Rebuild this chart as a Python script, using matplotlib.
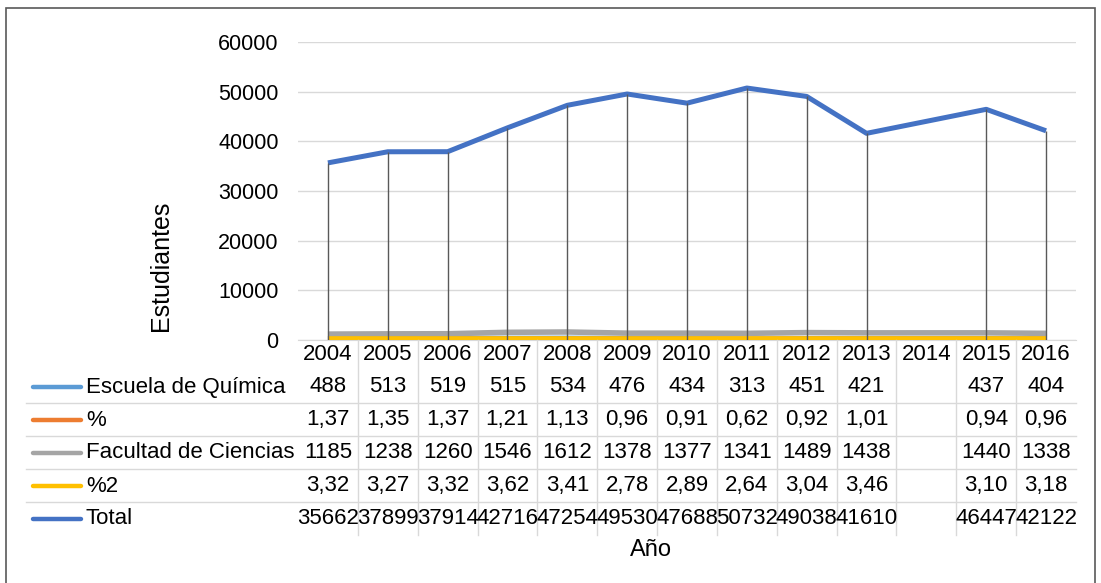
import numpy as np
import matplotlib
matplotlib.use('Agg')
import matplotlib.pyplot as plt
import matplotlib.transforms as mtransforms
from matplotlib.patches import Rectangle

plt.rcParams['font.family'] = ['Liberation Sans', 'DejaVu Sans']

# ---- Data ----
years = ['2004', '2005', '2006', '2007', '2008', '2009', '2010',
         '2011', '2012', '2013', '2014', '2015', '2016']
escuela = [488, 513, 519, 515, 534, 476, 434, 313, 451, 421, np.nan, 437, 404]
pct = [1.37, 1.35, 1.37, 1.21, 1.13, 0.96, 0.91, 0.62, 0.92, 1.01, np.nan, 0.94, 0.96]
facultad = [1185, 1238, 1260, 1546, 1612, 1378, 1377, 1341, 1489, 1438, np.nan, 1440, 1338]
pct2 = [3.32, 3.27, 3.32, 3.62, 3.41, 2.78, 2.89, 2.64, 3.04, 3.46, np.nan, 3.10, 3.18]
total = [35662, 37899, 37914, 42716, 47254, 49530, 47688, 50732, 49038, 41610,
         np.nan, 46447, 42122]

series_names = ['Escuela de Química', '%', 'Facultad de Ciencias', '%2', 'Total']
series_values = [escuela, pct, facultad, pct2, total]
series_colors = ['#5B9BD5', '#ED7D31', '#A5A5A5', '#FFC000', '#4472C4']
series_decimals = [0, 2, 0, 2, 0]
series_widths = [2.5, 5.0, 4.0, 5.5, 3.6]

W, H = 1101, 583


def fx(px):
    return px / W


def fy(py):
    return 1 - py / H


fig = plt.figure(figsize=(W / 100, H / 100), dpi=100)

# outer frame
fig.patches.append(Rectangle((fx(6), fy(590)), fx(1095) - fx(6), fy(8) - fy(590),
                             transform=fig.transFigure, fill=False,
                             edgecolor='#595959', linewidth=1.2))

ax = fig.add_axes([fx(298), fy(340), fx(1076) - fx(298), fy(42) - fy(340)])
x = np.arange(len(years))

# drop lines from the highest value down to the axis
stack = np.array(series_values, dtype=float)
valid = ~np.isnan(stack).any(axis=0)
ax.vlines(x[valid], 0, np.nanmax(stack, axis=0)[valid], color='#595959',
          linewidth=1.0, zorder=4)

for vals, color, lw in zip(series_values, series_colors, series_widths):
    v = np.array(vals, dtype=float)
    m = ~np.isnan(v)
    ax.plot(x[m], v[m], color=color, linewidth=lw, solid_capstyle='butt', zorder=3)

ax.set_xlim(-0.5, len(years) - 0.5)
ax.set_ylim(0, 60000)
ax.set_yticks(np.arange(0, 60001, 10000))
ax.yaxis.grid(True, color='#D9D9D9', linewidth=1)
ax.set_axisbelow(True)
ax.set_xticks([])
ax.tick_params(axis='y', length=0, labelsize=15.5, pad=14, colors='#000000')
for side in ['top', 'right', 'left']:
    ax.spines[side].set_visible(False)
ax.spines['bottom'].set_color('#D9D9D9')

fig.text(fx(161), fy(266), 'Estudiantes', rotation=90, fontsize=18,
         ha='center', va='center')

# ---- data table below the axis ----
tr = mtransforms.blended_transform_factory(ax.transData, fig.transFigure)
row_y = [387, 420, 453, 486, 519]
sep_y = [403, 436, 469, 502]
table_fs = 16

for i, yr in enumerate(years):
    fig.text(i, fy(355), yr, transform=tr, fontsize=table_fs, ha='center', va='center')

for k in range(1, len(years)):
    fig.add_artist(plt.Line2D([k - 0.5, k - 0.5], [fy(340), fy(535)], transform=tr,
                              color='#D9D9D9', linewidth=1))
for sy in sep_y:
    fig.add_artist(plt.Line2D([fx(26), fx(1076)], [fy(sy), fy(sy)],
                              transform=fig.transFigure, color='#D9D9D9', linewidth=1))

for ry, name, vals, color, dec in zip(row_y, series_names, series_values,
                                      series_colors, series_decimals):
    fig.add_artist(plt.Line2D([fx(33), fx(81)], [fy(ry), fy(ry)],
                              transform=fig.transFigure, color=color,
                              linewidth=3.2, solid_capstyle='round'))
    fig.text(fx(86), fy(ry), name, fontsize=table_fs, ha='left', va='center')
    for i, v in enumerate(vals):
        if np.isnan(v):
            continue
        label = f'{v:.{dec}f}'.replace('.', ',')
        fig.text(i, fy(ry), label, transform=tr, fontsize=table_fs,
                 ha='center', va='center')

fig.text(fx(651), fy(550), 'Año', fontsize=17, ha='center', va='center')

fig.savefig('out.png', dpi=100)
